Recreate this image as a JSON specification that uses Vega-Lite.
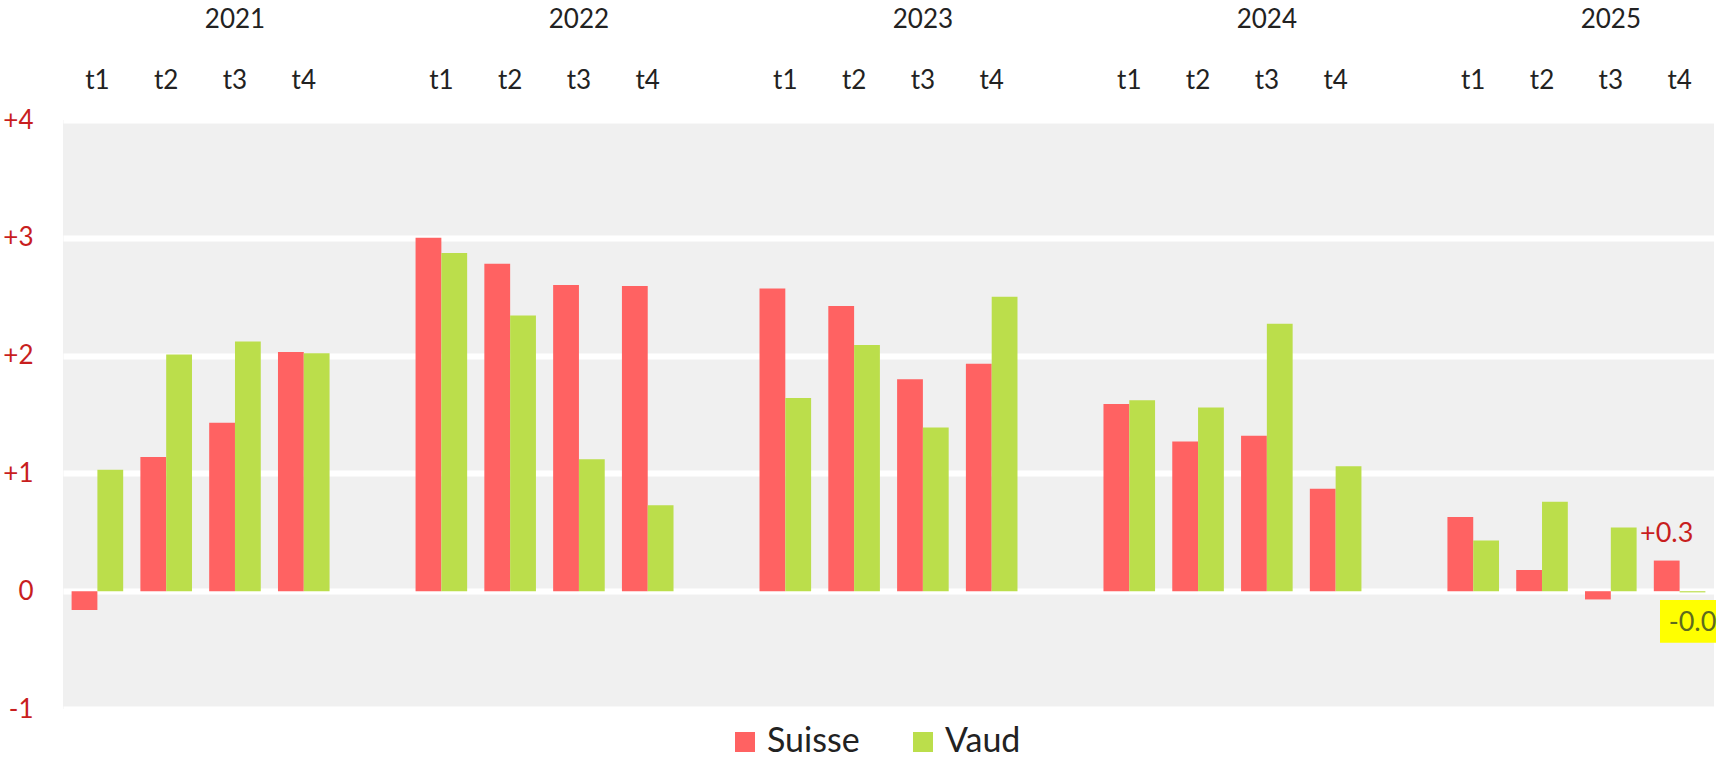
{
  "$schema": "https://vega.github.io/schema/vega-lite/v6.json",
  "autosize": {"type": "none"},
  "padding": {"left": 63, "top": 120, "right": 2, "bottom": 50},
  "width": 1651,
  "height": 589,
  "config": {
    "font": "Lato",
    "view": {"fill": "#f0f0f0", "stroke": null}
  },
  "data": {
    "values": [
      {"slot": "2021-t1", "series": "Suisse", "value": -0.16},
      {"slot": "2021-t1", "series": "Vaud", "value": 1.03},
      {"slot": "2021-t2", "series": "Suisse", "value": 1.14},
      {"slot": "2021-t2", "series": "Vaud", "value": 2.01},
      {"slot": "2021-t3", "series": "Suisse", "value": 1.43},
      {"slot": "2021-t3", "series": "Vaud", "value": 2.12},
      {"slot": "2021-t4", "series": "Suisse", "value": 2.03},
      {"slot": "2021-t4", "series": "Vaud", "value": 2.02},
      {"slot": "2022-t1", "series": "Suisse", "value": 3.0},
      {"slot": "2022-t1", "series": "Vaud", "value": 2.87},
      {"slot": "2022-t2", "series": "Suisse", "value": 2.78},
      {"slot": "2022-t2", "series": "Vaud", "value": 2.34},
      {"slot": "2022-t3", "series": "Suisse", "value": 2.6},
      {"slot": "2022-t3", "series": "Vaud", "value": 1.12},
      {"slot": "2022-t4", "series": "Suisse", "value": 2.59},
      {"slot": "2022-t4", "series": "Vaud", "value": 0.73},
      {"slot": "2023-t1", "series": "Suisse", "value": 2.57},
      {"slot": "2023-t1", "series": "Vaud", "value": 1.64},
      {"slot": "2023-t2", "series": "Suisse", "value": 2.42},
      {"slot": "2023-t2", "series": "Vaud", "value": 2.09},
      {"slot": "2023-t3", "series": "Suisse", "value": 1.8},
      {"slot": "2023-t3", "series": "Vaud", "value": 1.39},
      {"slot": "2023-t4", "series": "Suisse", "value": 1.93},
      {"slot": "2023-t4", "series": "Vaud", "value": 2.5},
      {"slot": "2024-t1", "series": "Suisse", "value": 1.59},
      {"slot": "2024-t1", "series": "Vaud", "value": 1.62},
      {"slot": "2024-t2", "series": "Suisse", "value": 1.27},
      {"slot": "2024-t2", "series": "Vaud", "value": 1.56},
      {"slot": "2024-t3", "series": "Suisse", "value": 1.32},
      {"slot": "2024-t3", "series": "Vaud", "value": 2.27},
      {"slot": "2024-t4", "series": "Suisse", "value": 0.87},
      {"slot": "2024-t4", "series": "Vaud", "value": 1.06},
      {"slot": "2025-t1", "series": "Suisse", "value": 0.63},
      {"slot": "2025-t1", "series": "Vaud", "value": 0.43},
      {"slot": "2025-t2", "series": "Suisse", "value": 0.18},
      {"slot": "2025-t2", "series": "Vaud", "value": 0.76},
      {"slot": "2025-t3", "series": "Suisse", "value": -0.07},
      {"slot": "2025-t3", "series": "Vaud", "value": 0.54},
      {"slot": "2025-t4", "series": "Suisse", "value": 0.26, "note": "+0.3"},
      {"slot": "2025-t4", "series": "Vaud", "value": -0.01, "note": "-0.0"}
    ]
  },
  "resolve": {"axis": {"x": "independent", "y": "independent"}},
  "layer": [
    {
      "mark": {"type": "bar"},
      "encoding": {
        "x": {
          "field": "slot", "type": "nominal",
          "scale": {
            "domain": ["2021-t1","2021-t2","2021-t3","2021-t4","2021-gap","2022-t1","2022-t2","2022-t3","2022-t4","2022-gap","2023-t1","2023-t2","2023-t3","2023-t4","2023-gap","2024-t1","2024-t2","2024-t3","2024-t4","2024-gap","2025-t1","2025-t2","2025-t3","2025-t4"],
            "paddingInner": 0.25, "paddingOuter": 0.125
          },
          "axis": {
            "orient": "top", "title": null, "domain": false, "ticks": false, "grid": false,
            "labelAngle": 0, "labelFontSize": 26, "labelColor": "#222222", "labelPadding": 32,
            "labelBaseline": "alphabetic",
            "labelExpr": "indexof(datum.value, 'gap') >= 0 ? '' : slice(datum.value, 5)"
          }
        },
        "xOffset": {"field": "series", "type": "nominal", "scale": {"domain": ["Suisse", "Vaud"], "paddingInner": 0, "paddingOuter": 0}},
        "y": {
          "field": "value", "type": "quantitative",
          "scale": {"domain": [-1, 4], "nice": false, "zero": true},
          "axis": {
            "title": null, "values": [-1, 0, 1, 2, 3, 4], "domain": false, "ticks": false,
            "grid": true, "gridColor": "#ffffff", "gridWidth": 6, "gridOpacity": 1,
            "labelFontSize": 26, "labelColor": "#c81e1e", "labelPadding": 30,
            "labelExpr": "datum.value > 0 ? '+' + datum.value : (datum.value < 0 ? '-' + (-datum.value) : '0')"
          }
        },
        "color": {
          "field": "series", "type": "nominal",
          "scale": {"domain": ["Suisse", "Vaud"], "range": ["#ff6262", "#bbde4b"]},
          "legend": {
            "title": null, "orient": "none", "direction": "horizontal",
            "legendX": 665, "legendY": 605,
            "symbolType": "square", "symbolSize": 400, "symbolStrokeWidth": 0, "symbolOpacity": 1,
            "labelFontSize": 34, "labelColor": "#222222", "labelOffset": 5, "columnPadding": 46
          }
        }
      }
    },
    {
      "transform": [{"filter": "datum.note && datum.series == 'Suisse'"}],
      "mark": {"type": "text", "dy": -27, "baseline": "middle", "align": "center", "fontSize": 27, "color": "#c81e1e"},
      "encoding": {
        "x": {
          "field": "slot", "type": "nominal",
          "scale": {
            "domain": ["2021-t1","2021-t2","2021-t3","2021-t4","2021-gap","2022-t1","2022-t2","2022-t3","2022-t4","2022-gap","2023-t1","2023-t2","2023-t3","2023-t4","2023-gap","2024-t1","2024-t2","2024-t3","2024-t4","2024-gap","2025-t1","2025-t2","2025-t3","2025-t4"],
            "paddingInner": 0.25, "paddingOuter": 0.125
          },
          "axis": {
            "orient": "top", "title": null, "domain": false, "ticks": false, "grid": false,
            "labelAngle": 0, "labelFontSize": 26, "labelColor": "#222222", "labelPadding": 93,
            "labelBaseline": "alphabetic",
            "labelExpr": "slice(datum.value, 5) == 't3' ? slice(datum.value, 0, 4) : ''"
          }
        },
        "xOffset": {"field": "series", "type": "nominal", "scale": {"domain": ["Suisse", "Vaud"], "paddingInner": 0, "paddingOuter": 0}},
        "y": {"field": "value", "type": "quantitative", "scale": {"domain": [-1, 4], "nice": false, "zero": true}, "axis": null},
        "text": {"field": "note"}
      }
    },
    {
      "transform": [{"filter": "datum.note && datum.series == 'Vaud'"}],
      "mark": {"type": "point", "shape": "M-1,-0.66L1,-0.66L1,0.66L-1,0.66Z", "size": 4225, "filled": true, "color": "#ffff00", "opacity": 1, "yOffset": 29},
      "encoding": {
        "x": {
          "field": "slot", "type": "nominal",
          "scale": {
            "domain": ["2021-t1","2021-t2","2021-t3","2021-t4","2021-gap","2022-t1","2022-t2","2022-t3","2022-t4","2022-gap","2023-t1","2023-t2","2023-t3","2023-t4","2023-gap","2024-t1","2024-t2","2024-t3","2024-t4","2024-gap","2025-t1","2025-t2","2025-t3","2025-t4"],
            "paddingInner": 0.25, "paddingOuter": 0.125
          },
          "axis": null
        },
        "xOffset": {"field": "series", "type": "nominal", "scale": {"domain": ["Suisse", "Vaud"], "paddingInner": 0, "paddingOuter": 0}},
        "y": {"field": "value", "type": "quantitative", "scale": {"domain": [-1, 4], "nice": false, "zero": true}, "axis": null}
      }
    },
    {
      "transform": [{"filter": "datum.note && datum.series == 'Vaud'"}],
      "mark": {"type": "text", "dy": 31, "baseline": "middle", "align": "center", "fontSize": 27, "color": "#5e6b1e"},
      "encoding": {
        "x": {
          "field": "slot", "type": "nominal",
          "scale": {
            "domain": ["2021-t1","2021-t2","2021-t3","2021-t4","2021-gap","2022-t1","2022-t2","2022-t3","2022-t4","2022-gap","2023-t1","2023-t2","2023-t3","2023-t4","2023-gap","2024-t1","2024-t2","2024-t3","2024-t4","2024-gap","2025-t1","2025-t2","2025-t3","2025-t4"],
            "paddingInner": 0.25, "paddingOuter": 0.125
          },
          "axis": null
        },
        "xOffset": {"field": "series", "type": "nominal", "scale": {"domain": ["Suisse", "Vaud"], "paddingInner": 0, "paddingOuter": 0}},
        "y": {"field": "value", "type": "quantitative", "scale": {"domain": [-1, 4], "nice": false, "zero": true}, "axis": null},
        "text": {"field": "note"}
      }
    }
  ]
}
